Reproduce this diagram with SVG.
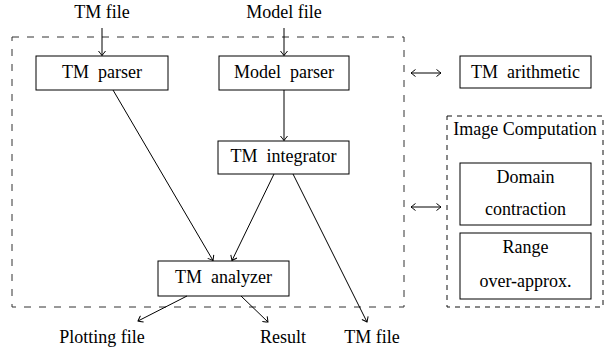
<svg xmlns="http://www.w3.org/2000/svg" width="606" height="352" viewBox="0 0 606 352">
<style>
text{font-family:"Liberation Serif","Times New Roman","DejaVu Serif",serif;font-size:18px;fill:#000;text-anchor:middle}
.box{fill:#fff;stroke:#000;stroke-width:1}
.dash{fill:none;stroke:#333;stroke-width:1;stroke-dasharray:7 8}
.dash2{fill:none;stroke:#111;stroke-width:1;stroke-dasharray:5 5}
.edge{fill:none;stroke:#000;stroke-width:1;marker-end:url(#arr)}
.dbl{fill:none;stroke:#000;stroke-width:1;marker-end:url(#arr);marker-start:url(#arrs)}
</style>
<defs>
<marker id="arr" viewBox="-6 -4 7 8" refX="0" refY="0" markerWidth="7" markerHeight="8" orient="auto" markerUnits="userSpaceOnUse">
<path d="M-4.5,-3.5 Q-1,-0.8 0,0 Q-1,0.8 -4.5,3.5" fill="none" stroke="#000" stroke-width="1"/>
</marker>
<marker id="arrs" viewBox="-6 -4 7 8" refX="0" refY="0" markerWidth="7" markerHeight="8" orient="auto-start-reverse" markerUnits="userSpaceOnUse">
<path d="M-4.5,-3.5 Q-1,-0.8 0,0 Q-1,0.8 -4.5,3.5" fill="none" stroke="#000" stroke-width="1"/>
</marker>
</defs>
<rect id="main-frame" class="dash" x="12" y="37" width="392" height="270"/>
<g font-family="Liberation Serif, Times New Roman, serif">
<g id="image-computation">
<rect class="dash2" x="447" y="116" width="156" height="191"/>
<text x="525" y="135">Image Computation</text>
</g>
<g id="tm-parser"><rect class="box" x="36" y="56" width="132" height="34"/><text x="102" y="78" xml:space="preserve">TM&#160; parser</text></g>
<g id="model-parser"><rect class="box" x="219" y="56" width="130" height="34"/><text x="284" y="78" xml:space="preserve">Model&#160; parser</text></g>
<g id="tm-integrator"><rect class="box" x="218" y="141" width="131" height="33"/><text x="283.5" y="162" xml:space="preserve">TM&#160; integrator</text></g>
<g id="tm-analyzer"><rect class="box" x="158" y="261" width="131" height="35"/><text x="223.5" y="283" xml:space="preserve">TM&#160; analyzer</text></g>
<g id="tm-arithmetic"><rect class="box" x="460" y="56" width="131" height="32"/><text x="525.5" y="78" xml:space="preserve">TM&#160; arithmetic</text></g>
<g id="domain-contraction"><rect class="box" x="460" y="163" width="131" height="62"/><text x="525.5" y="183">Domain</text><text x="525.5" y="215">contraction</text></g>
<g id="range-overapprox"><rect class="box" x="460" y="233" width="131" height="66"/><text x="525.5" y="253">Range</text><text x="525.5" y="287">over-approx.</text></g>
<g id="labels">
<text x="102" y="18">TM file</text>
<text x="284" y="18">Model file</text>
<text x="102" y="343">Plotting file</text>
<text x="283" y="343">Result</text>
<text x="372" y="343">TM file</text>
</g>
</g>
<g id="connectors">
<path class="edge" d="M102,28 L102,55.5"/>
<path class="edge" d="M284,28 L284,55.5"/>
<path class="edge" d="M284,90 L284,140.5"/>
<path class="edge" d="M113,90 L213,260.5"/>
<path class="edge" d="M274,174 L232,260.5"/>
<path class="edge" d="M293,174 L367,322"/>
<path class="edge" d="M187,296 L138,321"/>
<path class="edge" d="M241,296 L268,322"/>
<path class="dbl" d="M411,73 L441,73"/>
<path class="dbl" d="M411,207 L441,207"/>
</g>
</svg>
